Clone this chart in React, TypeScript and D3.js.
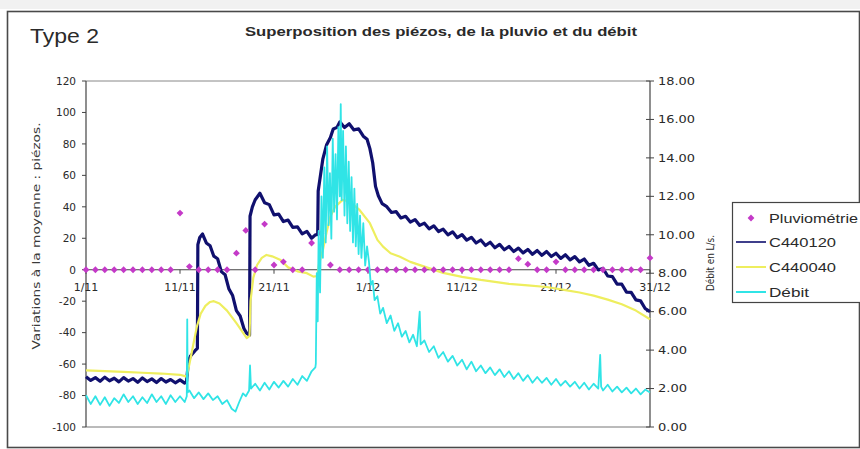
import React from "react";
import * as d3 from "d3";

// ---------- DATA ----------
const xTickDays = [0, 10, 20, 30, 40, 50, 60];
const xTickLabels = ["1/11", "11/11", "21/11", "1/12", "11/12", "21/12", "31/12"];
const leftTicks = [120, 100, 80, 60, 40, 20, 0, -20, -40, -60, -80, -100];
const rightTicks = [0, 2, 4, 6, 8, 10, 12, 14, 16, 18];

// Pluviométrie : one value per day, 1/11 .. 31/12
const pluvioValues = [
  0, 0, 0, 0, 0, 0, 0, 0, 0, 0,
  36, 2, 0, 0, 0, 0, 10.5, 25, 0, 29,
  3, 5, 0, 0, 17, 23, 3, 0, 0, 0,
  0, 0, 0, 0, 0, 0, 0, 0, 0, 0,
  0, 0, 0, 0, 0, 0, 7, 3.5, 0, 0,
  5, 0, 0, 0, 0, 0, 0, 0, 0, 0,
  7.5,
];

// C440120 : [day, variation]
const c440120: [number, number][] = [
  [0, -68.0], [0.5, -70.4], [1, -68.6], [1.5, -70.9], [2, -68.3], [2.5, -70.6], [3, -69.0], [3.5, -71.3],
  [4, -68.6], [4.5, -70.8], [5, -69.2], [5.5, -71.6], [6, -68.8], [6.5, -71.1], [7, -69.4], [7.5, -71.7],
  [8, -69.2], [8.5, -71.4], [9, -69.8], [9.5, -71.9], [10, -70.0], [10.5, -72.1], [10.7, -71.0],
  [10.9, -58], [11.1, -55], [11.6, -51.5], [11.85, -50], [11.9, 16], [12.1, 20.5], [12.4, 22.7],
  [12.8, 17.0], [13.2, 15.2], [13.6, 8.6], [14.0, 7.0], [14.4, -1.2], [14.8, -3.2], [15.2, -12.2],
  [15.6, -16.4], [16.0, -26.0], [16.4, -29.4], [16.8, -37.4], [17.1, -40.5], [17.4, -41.5],
  [17.45, 34], [17.7, 40], [18.0, 44.5], [18.5, 48.6], [19.0, 42.6], [19.5, 41.4], [20.0, 34.9],
  [20.5, 35.4], [21.0, 30.6], [21.5, 31.6], [22.0, 26.9], [22.5, 27.2], [23.0, 22.8], [23.5, 24.4],
  [24.0, 20.0], [24.4, 22.2], [24.65, 22.5], [24.7, 50], [25.2, 70.5], [25.6, 79.5], [26.0, 84.0],
  [26.3, 89.5], [26.7, 90.5], [27.0, 94.0], [27.5, 90.4], [28.0, 92.8], [28.5, 88.9], [29.0, 89.6],
  [29.5, 84.9], [29.9, 83.0], [30.2, 77.0], [30.5, 68.0], [30.8, 53.0], [31.1, 47.0], [31.5, 42.0],
  [32.0, 40.1], [32.5, 36.4], [33.0, 36.9], [33.5, 32.9], [34.0, 34.0], [34.5, 30.3], [35.0, 31.9],
  [35.5, 28.2], [36.0, 29.6], [36.5, 26.0], [37.0, 27.9], [37.5, 24.3], [38.0, 25.8], [38.5, 22.2],
  [39.0, 24.1], [39.5, 20.4], [40.0, 22.3], [40.5, 18.8], [41.0, 20.6], [41.5, 17.0], [42.0, 18.9],
  [42.5, 15.4], [43.0, 17.5], [43.5, 14.0], [44.0, 16.1], [44.5, 12.7], [45.0, 14.8], [45.5, 11.6],
  [46.0, 13.7], [46.5, 10.7], [47.0, 12.9], [47.5, 9.8], [48.0, 12.2], [48.5, 9.2], [49.0, 11.6],
  [49.5, 8.4], [50.0, 10.5], [50.5, 7.2], [51.0, 9.5], [51.5, 6.3], [52.0, 8.3], [52.5, 5.0],
  [53.0, 6.8], [53.5, 2.8], [54.0, 4.1], [54.5, -0.1], [55.0, 0.8], [55.5, -4.0], [56.0, -4.4],
  [56.5, -9.2], [57.0, -9.2], [57.5, -14.2], [58.0, -14.4], [58.5, -19.2], [59.0, -19.8],
  [59.5, -24.8], [60.0, -26.6],
];

// C440040 : [day, variation]
const c440040: [number, number][] = [
  [0, -64], [2, -64.5], [4, -65], [6, -65.5], [8, -66], [10, -66.8], [10.7, -68],
  [11.0, -60], [11.4, -48], [11.8, -36], [12.2, -28], [12.7, -23], [13.2, -20.5], [13.6, -20],
  [14.2, -21.5], [15.0, -26], [16.0, -34], [17.1, -43.5], [17.4, -42], [17.5, -20], [17.8, -5],
  [18.2, 3], [18.7, 7.5], [19.2, 9.4], [19.8, 8.5], [20.7, 6.2], [21.5, 1.5], [22.5, -1],
  [23.5, -2.2], [24.2, -4.4], [24.6, -4], [24.8, 4], [25.2, 12.6], [25.6, 24], [26.0, 33.8],
  [26.5, 40], [27.3, 44.4], [28.0, 43.5], [29.1, 38], [30.2, 29.6], [31.0, 19], [31.6, 14.7],
  [32.4, 10.5], [33.4, 8.3], [34.5, 5.0], [36.0, 2], [38.0, -2], [40.0, -4.5], [42.0, -6.5],
  [45.0, -9], [47.0, -10], [49.0, -11], [51.0, -13], [52.5, -14.5], [54.0, -16.5], [55.5, -19],
  [57.0, -22], [58.5, -26], [60.0, -31.5],
];

// Débit (L/s) : [day, flow]
const debit: [number, number][] = [
  [0, 1.65], [0.5, 1.2], [1, 1.6], [1.5, 1.15], [2, 1.55], [2.5, 1.1], [3, 1.5], [3.5, 1.25],
  [4, 1.7], [4.5, 1.3], [5, 1.6], [5.5, 1.2], [6, 1.55], [6.5, 1.25], [7, 1.7], [7.5, 1.3],
  [8, 1.6], [8.5, 1.2], [9, 1.65], [9.5, 1.3], [10, 1.6], [10.5, 1.3], [10.72, 1.6], [10.77, 5.6],
  [10.82, 1.8], [11, 1.9], [11.5, 1.5], [12, 1.8], [12.5, 1.45], [13, 1.75], [13.5, 1.4],
  [14, 1.6], [14.5, 1.2], [15, 1.4], [15.5, 0.95], [15.9, 0.8], [16.3, 1.3], [16.7, 1.75],
  [17, 1.6], [17.35, 1.9], [17.45, 3.2], [17.55, 2.0], [18, 2.25], [18.5, 1.9], [19, 2.3],
  [19.5, 1.95], [20, 2.35], [20.5, 2.05], [21, 2.4], [21.5, 2.1], [22, 2.5], [22.5, 2.2],
  [23, 2.65], [23.5, 2.4], [24, 2.9], [24.4, 3.1], [24.45, 3.3], [24.55, 8.0], [24.65, 5.5],
  [24.75, 10.2], [24.9, 7.0], [25.05, 12.0], [25.2, 8.8], [25.35, 13.5], [25.5, 9.6], [25.65, 14.6],
  [25.8, 10.5], [25.95, 13.2], [26.1, 9.8], [26.25, 15.0], [26.4, 11.2], [26.55, 14.2], [26.7, 10.8],
  [26.85, 15.6], [27.0, 12.0], [27.1, 16.8], [27.2, 11.8], [27.35, 15.4], [27.5, 11.0], [27.65, 14.6],
  [27.8, 10.6], [27.95, 13.8], [28.1, 10.2], [28.25, 13.0], [28.4, 9.6], [28.55, 12.4], [28.7, 9.4],
  [28.85, 11.6], [29.0, 9.0], [29.15, 11.0], [29.3, 8.8], [29.5, 10.6], [29.7, 8.4], [29.9, 9.4],
  [30.1, 8.6], [30.3, 7.4], [30.5, 7.6], [30.7, 6.6], [31.0, 6.8], [31.3, 5.9], [31.6, 6.2],
  [32.0, 5.4], [32.4, 5.8], [32.8, 5.0], [33.2, 5.4], [33.6, 4.7], [34.0, 5.0], [34.4, 4.4],
  [34.8, 4.8], [35.2, 4.2], [35.5, 6.0], [35.6, 4.3], [36.0, 4.5], [36.5, 3.9], [37.0, 4.2],
  [37.5, 3.6], [38.0, 3.9], [38.5, 3.4], [39.0, 3.7], [39.5, 3.2], [40.0, 3.5], [40.5, 3.0],
  [41.0, 3.4], [41.5, 2.9], [42.0, 3.2], [42.5, 2.8], [43.0, 3.1], [43.5, 2.7], [44.0, 3.0],
  [44.5, 2.6], [45.0, 2.9], [45.5, 2.5], [46.0, 2.8], [46.5, 2.4], [47.0, 2.7], [47.5, 2.3],
  [48.0, 2.6], [48.5, 2.3], [49.0, 2.55], [49.5, 2.2], [50.0, 2.5], [50.5, 2.15], [51.0, 2.4],
  [51.5, 2.1], [52.0, 2.35], [52.5, 2.0], [53.0, 2.3], [53.5, 1.95], [54.0, 2.25], [54.5, 2.0],
  [54.7, 3.75], [54.8, 2.1], [55.0, 1.9], [55.5, 2.2], [56.0, 1.85], [56.5, 2.1], [57.0, 1.8],
  [57.5, 2.05], [58.0, 1.75], [58.5, 2.0], [59.0, 1.7], [59.5, 1.95], [60.0, 1.8],
];

const legendLabels = ["Pluviométrie", "C440120", "C440040", "Débit"];

// ---------- STYLE ----------
const NAVY = "#10106e";
const YELLOW = "#eeee5e";
const CYAN = "#30e4e6";
const MAGENTA = "#c43ac8";
const AXIS = "#444";
const TXT = "#2a2a2a";
const TICKFONT = "DejaVu Sans, sans-serif";

export default function App() {
  const W = 860, H = 449;
  const left = 86, right = 650, top = 81, bottom = 427;

  const x = d3.scaleLinear().domain([0, 60]).range([left, right]);
  const yL = d3.scaleLinear().domain([-100, 120]).range([bottom, top]);
  const yR = d3.scaleLinear().domain([0, 18]).range([bottom, top]);

  const lineL = d3.line<[number, number]>().x((d) => x(d[0])).y((d) => yL(d[1]));
  const lineR = d3.line<[number, number]>().x((d) => x(d[0])).y((d) => yR(d[1]));

  const diamond = (cx: number, cy: number, r: number) =>
    `M${cx},${cy - r}L${cx + r},${cy}L${cx},${cy + r}L${cx - r},${cy}Z`;

  const y0 = yL(0);
  const legendX = 732, legendY = 202;
  const legendRows = [218, 242, 267, 292];
  const legendLens = [89, 67, 67, 40];

  return (
    <svg
      width={W}
      height={H}
      style={{ position: "absolute", left: 0, top: 0, background: "#fff" }}
      fontFamily="Liberation Sans, Arial, sans-serif"
    >
      <rect x={0} y={0} width={W} height={H} fill="#fff" />
      <rect x={0} y={0} width={W} height={9} fill="#f1f1f1" />
      {/* outer frame */}
      <rect x={7.5} y={11.5} width={852} height={436} fill="none" stroke="#4a4a4a" strokeWidth={1.6} />

      {/* titles */}
      <text x={30} y={43} fontSize={21} fill={TXT} textLength={69} lengthAdjust="spacingAndGlyphs">
        Type 2
      </text>
      <text x={245} y={36} fontSize={12.5} fontWeight="bold" fill={TXT} textLength={392} lengthAdjust="spacingAndGlyphs">
        Superposition des piézos, de la pluvio et du débit
      </text>

      {/* plot frame */}
      <line x1={left} x2={right} y1={top} y2={top} stroke="#888" strokeWidth={1} />
      <line x1={left} x2={right} y1={bottom} y2={bottom} stroke="#777" strokeWidth={1} />
      <line x1={left} x2={left} y1={top} y2={bottom} stroke={AXIS} strokeWidth={1.2} />
      <line x1={right} x2={right} y1={top} y2={bottom} stroke={AXIS} strokeWidth={1.2} />

      {/* left ticks */}
      {leftTicks.map((t) => (
        <g key={"l" + t}>
          <line x1={left - 4} x2={left} y1={yL(t)} y2={yL(t)} stroke={AXIS} />
          <text x={76} y={yL(t)} dy="0.36em" textAnchor="end" fontSize={10.5} fontFamily={TICKFONT} fill={TXT}>
            {t}
          </text>
        </g>
      ))}
      {/* right ticks */}
      {rightTicks.map((t) => (
        <g key={"r" + t}>
          <line x1={right - 4} x2={right + 4} y1={yR(t)} y2={yR(t)} stroke={AXIS} />
          <text
            x={658}
            y={yR(t)}
            dy="0.36em"
            fontSize={10.5}
            fontFamily={TICKFONT}
            fill={TXT}
            textLength={t >= 10 ? 37 : 29}
            lengthAdjust="spacingAndGlyphs"
          >
            {t.toFixed(2)}
          </text>
        </g>
      ))}

      {/* axis titles */}
      <text
        transform={`translate(40,236) rotate(-90)`}
        textAnchor="middle"
        fontSize={11}
        fontFamily={TICKFONT}
        fill="#3a3a3a"
        textLength={227}
        lengthAdjust="spacingAndGlyphs"
      >
        Variations à la moyenne : piézos.
      </text>
      <text
        transform={`translate(714,263) rotate(-90)`}
        textAnchor="middle"
        fontSize={10.5}
        fontFamily={TICKFONT}
        fill={TXT}
        textLength={56}
        lengthAdjust="spacingAndGlyphs"
      >
        Débit en L/s.
      </text>

      {/* x axis at 0 */}
      <line x1={left} x2={right} y1={y0} y2={y0} stroke={AXIS} strokeWidth={1.2} />
      {xTickDays.map((d, i) => (
        <g key={"x" + d}>
          <line x1={x(d)} x2={x(d)} y1={y0} y2={y0 + 4} stroke={AXIS} />
          <text x={x(d) + (i === xTickDays.length - 1 ? 5 : 0)} y={291} textAnchor="middle" fontSize={11} fontFamily={TICKFONT} fill={TXT}>
            {xTickLabels[i]}
          </text>
        </g>
      ))}

      {/* series */}
      <path d={lineL(c440120) || ""} fill="none" stroke={NAVY} strokeWidth={3.2} strokeLinejoin="round" />
      <path d={lineL(c440040) || ""} fill="none" stroke={YELLOW} strokeWidth={2.2} strokeLinejoin="round" />
      {pluvioValues.map((v, i) => (
        <path key={"p" + i} d={diamond(x(i), yL(v), 3.4)} fill={MAGENTA} />
      ))}
      <path d={lineR(debit) || ""} fill="none" stroke={CYAN} strokeWidth={1.8} strokeLinejoin="round" />

      {/* legend */}
      <rect x={legendX + 0.5} y={legendY + 0.5} width={140} height={100} fill="#fff" stroke="#444" strokeWidth={1.2} />
      {legendLabels.map((lab, i) => {
        const cy = legendRows[i];
        return (
          <g key={lab}>
            {i === 0 ? (
              <path d={diamond(751, cy, 3.4)} fill={MAGENTA} />
            ) : (
              <line
                x1={736}
                x2={766}
                y1={cy}
                y2={cy}
                stroke={i === 1 ? NAVY : i === 2 ? YELLOW : CYAN}
                strokeWidth={i === 1 ? 1.6 : 2}
              />
            )}
            <text x={769} y={cy} dy="0.36em" fontSize={13.5} fill={TXT} textLength={legendLens[i]} lengthAdjust="spacingAndGlyphs">
              {lab}
            </text>
          </g>
        );
      })}
    </svg>
  );
}
